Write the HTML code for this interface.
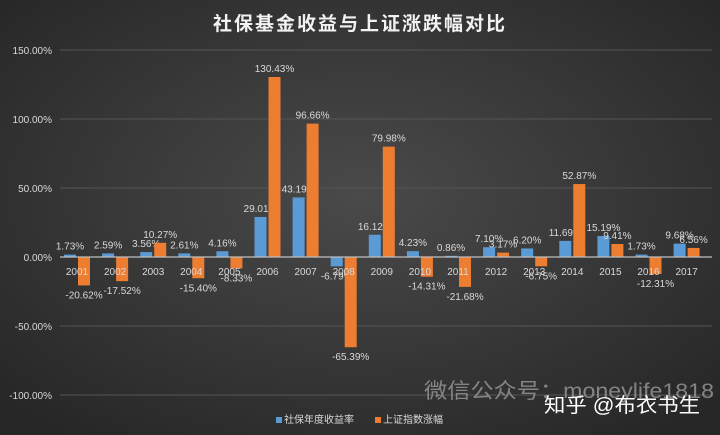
<!DOCTYPE html>
<html><head><meta charset="utf-8"><style>
body{margin:0;width:720px;height:435px;overflow:hidden;background:#333}
svg{display:block}
text{font-family:"Liberation Sans","Noto Sans CJK SC",sans-serif}
</style></head><body>
<svg id="s" width="720" height="435" xmlns="http://www.w3.org/2000/svg">
<defs><radialGradient id="g" cx="50%" cy="45%" r="70%"><stop offset="0" stop-color="#4a4a4a"/><stop offset="1" stop-color="#262626"/></radialGradient></defs>
<rect width="720" height="435" fill="url(#g)"/>
<text x="360" y="30" font-size="19" font-weight="bold" fill="#f2f2f2" text-anchor="middle" letter-spacing="2" font-family="Noto Sans CJK SC,sans-serif">社保基金收益与上证涨跌幅对比</text>
<g id="grid"></g><g id="bars"></g>
<text x="424" y="398" font-size="21" fill="#9a9a9a" opacity="0.8" textLength="290" lengthAdjust="spacingAndGlyphs" font-family="Noto Sans CJK SC,sans-serif">微信公众号：moneylife1818</text>
<text x="544" y="412" font-size="20" fill="#fff" textLength="156" lengthAdjust="spacingAndGlyphs" font-family="Noto Sans CJK SC,sans-serif">知乎 @布衣书生</text>
<rect x="276" y="417" width="6" height="6" fill="#5b9bd5"/>
<text x="284" y="423" font-size="10" fill="#d9d9d9" font-family="Noto Sans CJK SC,sans-serif">社保年度收益率</text>
<rect x="375" y="417" width="6" height="6" fill="#ed7d31"/>
<text x="383" y="423" font-size="10" fill="#d9d9d9" font-family="Noto Sans CJK SC,sans-serif">上证指数涨幅</text>
</svg>
<script>
var NS="http://www.w3.org/2000/svg";
function el(p,t,a,txt){var e=document.createElementNS(NS,t);for(var k in a)e.setAttribute(k,a[k]);if(txt!=null)e.textContent=txt;document.getElementById(p).appendChild(e);}
var y0=257,k=1.38;
[150,100,50,0,-50,-100].forEach(function(v){var y=y0-v*k;
 if(v!=0)el("grid","line",{x1:60,x2:712,y1:y,y2:y,stroke:"#555","stroke-width":1});
 el("grid","text",{x:52,y:y+4,"font-size":10,fill:"#d9d9d9","text-anchor":"end"},v.toFixed(2)+"%");});
var B=[1.73,2.59,3.56,2.61,4.16,29.01,43.19,-6.79,16.12,4.23,0.86,7.10,6.20,11.69,15.19,1.73,9.68];
var O=[-20.62,-17.52,10.27,-15.40,-8.33,130.43,96.66,-65.39,79.98,-14.31,-21.68,3.17,-6.75,52.87,9.41,-12.31,6.56];
for(var i=0;i<17;i++){var c=77+38.1*i;
 [[B[i],c-13,"#5b9bd5",c-7],[O[i],c+1,"#ed7d31",c+7]].forEach(function(d){var v=d[0],h=Math.abs(v)*k;
  el("bars","rect",{x:d[1],y:v>=0?y0-h:y0,width:12,height:Math.max(h,1),fill:d[2]});
  el("bars","text",{x:d[3],y:v>=0?y0-h-5:y0+h+13,"font-size":10,fill:"#d9d9d9","text-anchor":"middle"},v.toFixed(2)+"%");});
}
el("bars","line",{x1:60,x2:712,y1:y0,y2:y0,stroke:"#bfbfbf","stroke-width":1.2});
for(var i=0;i<17;i++)el("bars","text",{x:77+38.1*i,y:275,"font-size":10,fill:"#d9d9d9","text-anchor":"middle"},2001+i);
</script>
</body></html>
